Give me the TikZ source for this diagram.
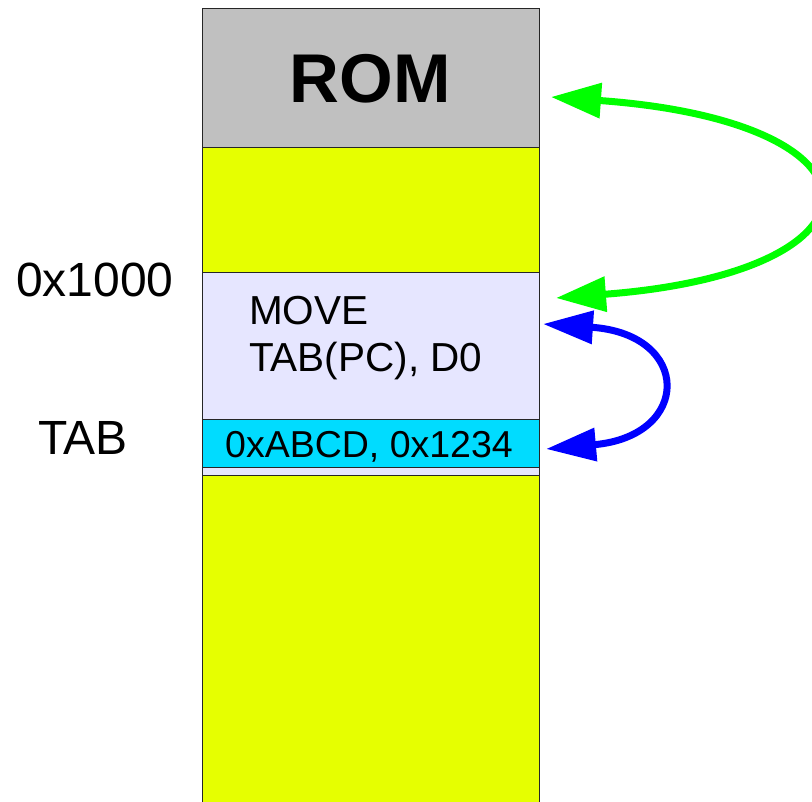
\documentclass[tikz,border=0pt]{standalone}
\usepackage{fontspec}
\setmainfont{Liberation Sans}
\usetikzlibrary{arrows.meta}

\definecolor{romgray}{RGB}{192,192,192}
\definecolor{freeyellow}{RGB}{230,255,0}
\definecolor{codelav}{RGB}{230,230,255}
\definecolor{tabcyan}{RGB}{0,220,255}
\definecolor{arrgreen}{RGB}{0,255,0}
\definecolor{arrblue}{RGB}{0,0,255}

\tikzset{
  cell/.style={draw=black!85, line width=1pt, anchor=north west, inner sep=0pt,
               minimum width=337pt},
  lbl/.style={inner sep=0pt, anchor=base west, font=\fontsize{48}{52}\selectfont},
  jump/.style={line width=7pt},
}

\begin{document}
\begin{tikzpicture}[x=1pt, y=-1pt]
  \useasboundingbox (0,0) rectangle (812,802);

  % memory column, top to bottom
  \node[cell, fill=romgray,    minimum height=139pt] (rom)   at (202,8)   {};
  \node[cell, fill=freeyellow, minimum height=125pt] (free1) at (202,147) {};
  \node[cell, fill=codelav,    minimum height=147pt] (code)  at (202,272) {};
  \node[cell, fill=tabcyan,    minimum height=48pt]  (tab)   at (202,419) {};
  \node[cell, fill=codelav,    minimum height=8pt]   (gap)   at (202,467) {};
  \node[cell, fill=freeyellow, minimum height=340pt] (free2) at (202,475) {};

  % contents
  \node[inner sep=0pt, anchor=base, font=\fontsize{69}{72}\selectfont\bfseries]
    (romtxt) at (370,103) {ROM};
  \node[inner sep=0pt, anchor=base west, font=\fontsize{40.5}{47}\selectfont]
    (mv1) at (249,325) {MOVE};
  \node[inner sep=0pt, anchor=base west, font=\fontsize{40.5}{47}\selectfont]
    (mv2) at (249,372) {TAB(PC), D0};
  \node[inner sep=0pt, anchor=base, font=\fontsize{37.5}{42}\selectfont]
    (tabtxt) at (369,457) {0xABCD, 0x1234};

  % address labels
  \node[lbl] (addr) at (16,297) {0x1000};
  \node[lbl] (tablbl) at (38,455) {TAB};

  % arrow end points beside the column
  \coordinate (romin)  at (551,97);
  \coordinate (codein) at (556,298);
  \coordinate (codeup) at (543,324);
  \coordinate (tabin)  at (546,449);

  % PC-relative jumps
  \draw[jump, arrgreen, {Triangle[length=50pt, width=34pt]}-{Triangle[length=50pt, width=34pt]}]
    (codein) .. controls (897,272) and (897,122) .. (romin);
  \draw[jump, arrblue, {Triangle[length=50pt, width=32pt]}-{Triangle[length=50pt, width=32pt]}]
    (tabin) .. controls (692,436) and (692,334) .. (codeup);
\end{tikzpicture}
\end{document}
